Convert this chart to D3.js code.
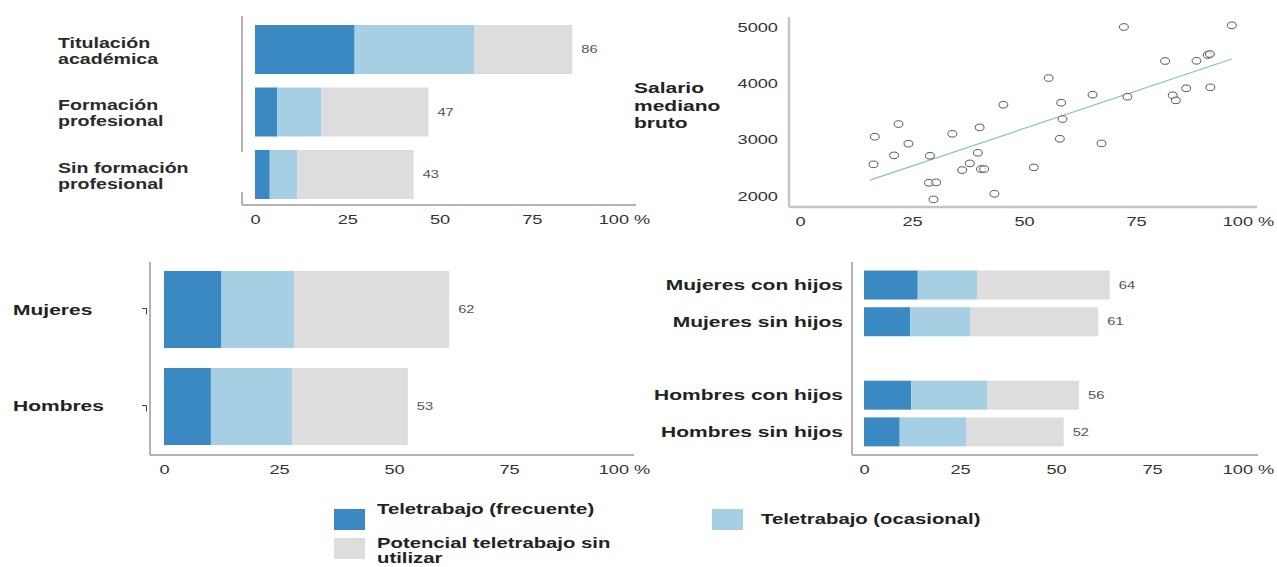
<!DOCTYPE html>
<html>
<head>
<meta charset="utf-8">
<script src="https://cdn.jsdelivr.net/npm/d3@7"></script>
<style>
  html, body { margin: 0; padding: 0; background: #fff; }
  svg { display: block; font-family: "Liberation Sans", Arial, sans-serif; }
</style>
</head>
<body>
<svg id="chart" width="1277" height="567"></svg>
<script>
// ---------- DATA ----------
const seriesNames = ["Teletrabajo (frecuente)", "Teletrabajo (ocasional)", "Potencial teletrabajo sin\nutilizar"];

const educCats = ["Titulación\nacadémica", "Formación\nprofesional", "Sin formación\nprofesional"];
const educFreq = [27, 6, 4];
const educOcas = [32.5, 12, 7.5];
const educPot  = [26.5, 29, 31.5];

const sexCats = ["Mujeres", "Hombres"];
const sexFreq = [12.5, 10.2];
const sexOcas = [15.8, 17.7];
const sexPot  = [33.7, 25.1];

const famCats = ["Mujeres con hijos", "Mujeres sin hijos", "Hombres con hijos", "Hombres sin hijos"];
const famFreq = [14, 12, 12.3, 9.3];
const famOcas = [15.5, 15.6, 19.9, 17.4];
const famPot  = [34.5, 33.4, 23.8, 25.3];

const pctTicks = [0, 25, 50, 75, 100];
const pctTickLabels = ["0", "25", "50", "75", "100 %"];

const scatterX = [72.3, 96.4, 81.5, 88.5, 91.0, 91.5, 55.5, 86.2, 91.6, 65.3, 73.1, 83.2, 83.9, 58.3, 45.4, 58.6,
                  22.0, 40.1, 34.0, 16.7, 24.2, 58.0, 67.3, 21.0, 29.0, 39.7, 37.9, 36.2, 40.4, 41.1, 16.4, 52.2,
                  28.8, 30.4, 43.4, 29.8];
const scatterY = [5000, 5030, 4396, 4400, 4503, 4520, 4094, 3911, 3929, 3798, 3762, 3787, 3698, 3656, 3620, 3366,
                  3277, 3218, 3105, 3052, 2928, 3016, 2934, 2721, 2714, 2767, 2579, 2460, 2478, 2478, 2562, 2508,
                  2235, 2242, 2040, 1940];
const trendX = [15.6, 96.4];
const trendY = [2282, 4432];
const salaryTicks = [2000, 3000, 4000, 5000];
const salaryLabel = "Salario\nmediano\nbruto";

// ---------- STYLE ----------
const colors = ["#3a89c3", "#a6cfe4", "#dddddd"];
const SX = 1.4;           // horizontal text stretch of the reference
const axisColor = "#9a9a9a";
const svg = d3.select("#chart");
const pctFormat = d => pctTickLabels[pctTicks.indexOf(d)];

function stretchText(sel, x, y) {
  sel.attr("x", 0).attr("y", 0).attr("transform", `translate(${x},${y}) scale(${SX},1)`);
}

function multiLine(g, str, x, y, lineH, opts) {
  const lines = str.split("\n");
  lines.forEach((ln, i) => {
    const t = g.append("text").text(ln)
      .attr("font-size", opts.size).attr("font-weight", opts.weight || "bold")
      .attr("fill", opts.fill || "#222").attr("text-anchor", opts.anchor || "start");
    stretchText(t, x, y + i * lineH);
  });
}

function styleBottomTicks(g) {
  g.select(".domain").remove();
  g.selectAll("text").attr("font-size", 13).attr("fill", "#333")
    .attr("font-family", "Liberation Sans, Arial, sans-serif")
    .attr("transform", `scale(${SX},1)`);
}

function bottomAxis(xScale, yAxis, xStart, xEnd) {
  const g = svg.append("g").attr("transform", `translate(0,${yAxis})`);
  g.call(d3.axisBottom(xScale).tickValues(pctTicks).tickSize(0).tickPadding(10).tickFormat(pctFormat));
  styleBottomTicks(g);
  svg.append("line").attr("x1", xStart).attr("x2", xEnd).attr("y1", yAxis).attr("y2", yAxis)
    .attr("stroke", axisColor).attr("stroke-width", 1.5);
}

function stackedBars(cats, freq, ocas, pot, xScale, yScale) {
  const rows = cats.map((c, i) => ({ cat: c, vals: [freq[i], ocas[i], pot[i]] }));
  const g = svg.append("g");
  rows.forEach(r => {
    let acc = 0;
    r.vals.forEach((v, k) => {
      g.append("rect")
        .attr("x", xScale(acc)).attr("width", xScale(acc + v) - xScale(acc))
        .attr("y", yScale(r.cat)).attr("height", yScale.bandwidth())
        .attr("fill", colors[k]);
      acc += v;
    });
    const lbl = g.append("text").text(d3.format(".0f")(acc))
      .attr("font-size", 10.5).attr("fill", "#555");
    stretchText(lbl, xScale(acc) + 9, yScale(r.cat) + yScale.bandwidth() / 2);
    lbl.attr("dy", "0.35em");
  });
  return g;
}

// ---------- PANEL 1: education ----------
{
  const x = d3.scaleLinear().domain([0, 100]).range([255, 624]);
  const y = d3.scaleBand().domain(educCats).range([18.75, 205.25]).paddingInner(0.216).paddingOuter(0.1);
  svg.append("line").attr("x1", 242).attr("x2", 242).attr("y1", 16).attr("y2", 152).attr("stroke", axisColor).attr("stroke-width", 1.5);
  svg.append("line").attr("x1", 242).attr("x2", 242).attr("y1", 192).attr("y2", 205).attr("stroke", axisColor).attr("stroke-width", 1.5);
  stackedBars(educCats, educFreq, educOcas, educPot, x, y);
  bottomAxis(x, 205, 242, 636);
  educCats.forEach(c => {
    const cy = y(c) + y.bandwidth() / 2;
    multiLine(svg, c, 58, cy - 2, 16, { size: 14, fill: "#2a2a2a" });
  });
}

// ---------- PANEL 2: scatter ----------
{
  const x = d3.scaleLinear().domain([0, 100]).range([800, 1248]);
  const y = d3.scaleLinear().domain([2000, 5000]).range([196, 27]);
  svg.append("line").attr("x1", 789).attr("x2", 789).attr("y1", 17).attr("y2", 207).attr("stroke", "#c4c4c4").attr("stroke-width", 2.5);
  svg.append("line").attr("x1", 789).attr("x2", 1257).attr("y1", 207).attr("y2", 207).attr("stroke", "#c4c4c4").attr("stroke-width", 2.5);

  const ya = svg.append("g").attr("transform", "translate(790,0)");
  ya.call(d3.axisLeft(y).tickValues(salaryTicks).tickSize(0).tickPadding(12).tickFormat(d3.format("d")));
  ya.select(".domain").remove();
  ya.selectAll("text").each(function () {
    const t = d3.select(this);
    const xx = +t.attr("x");
    t.attr("x", 0).attr("transform", `translate(${xx},0) scale(${SX},1)`)
      .attr("font-size", 13).attr("fill", "#333").attr("font-family", "Liberation Sans, Arial, sans-serif");
  });

  const xa = svg.append("g").attr("transform", "translate(0,207)");
  xa.call(d3.axisBottom(x).tickValues(pctTicks).tickSize(0).tickPadding(10).tickFormat(pctFormat));
  styleBottomTicks(xa);

  svg.append("path")
    .datum(trendX.map((d, i) => [d, trendY[i]]))
    .attr("d", d3.line().x(d => x(d[0])).y(d => y(d[1])))
    .attr("fill", "none").attr("stroke", "#8bbccd").attr("stroke-width", 1.2);

  svg.append("g").selectAll("ellipse")
    .data(scatterX.map((d, i) => [d, scatterY[i]]))
    .join("ellipse")
    .attr("cx", d => x(d[0])).attr("cy", d => y(d[1]))
    .attr("rx", 4.4).attr("ry", 3.3)
    .attr("fill", "#fff").attr("fill-opacity", 0.6).attr("stroke", "#555").attr("stroke-width", 1);

  multiLine(svg, salaryLabel, 634, 93, 17.5, { size: 15, fill: "#222" });
}

// ---------- PANEL 3: sex ----------
{
  const x = d3.scaleLinear().domain([0, 100]).range([164, 624]);
  const y = d3.scaleBand().domain(sexCats).range([261.3, 454.7]).paddingInner(0.206).paddingOuter(0.1);
  svg.append("line").attr("x1", 150).attr("x2", 150).attr("y1", 262).attr("y2", 455).attr("stroke", axisColor).attr("stroke-width", 1.5);
  stackedBars(sexCats, sexFreq, sexOcas, sexPot, x, y);
  bottomAxis(x, 455, 150, 634);
  sexCats.forEach(c => {
    const cy = y(c) + y.bandwidth() / 2;
    multiLine(svg, c, 13, cy + 5, 16, { size: 15, fill: "#222" });
    svg.append("path")
      .attr("d", `M${142},${cy - 1}H${146.5}V${cy + 5}`)
      .attr("fill", "none").attr("stroke", "#444").attr("stroke-width", 1);
  });
}

// ---------- PANEL 4: family ----------
{
  const x = d3.scaleLinear().domain([0, 100]).range([864, 1248]);
  const yDomain = [famCats[0], famCats[1], "", famCats[2], famCats[3]];
  const y = d3.scaleBand().domain(yDomain).range([263.2, 453.7]).paddingInner(0.21).paddingOuter(0.2);
  svg.append("line").attr("x1", 852).attr("x2", 852).attr("y1", 262).attr("y2", 455).attr("stroke", axisColor).attr("stroke-width", 1.5);
  stackedBars(famCats, famFreq, famOcas, famPot, x, y);
  bottomAxis(x, 455, 852, 1258);
  famCats.forEach(c => {
    const cy = y(c) + y.bandwidth() / 2;
    multiLine(svg, c, 843, cy + 5, 16, { size: 15, fill: "#222", anchor: "end" });
  });
}

// ---------- LEGEND ----------
{
  const items = [
    { name: seriesNames[0], color: colors[0], x: 334, y: 509, tx: 377, ty: 514 },
    { name: seriesNames[1], color: colors[1], x: 712, y: 509, tx: 761, ty: 524 },
    { name: seriesNames[2], color: colors[2], x: 334, y: 538, tx: 377, ty: 548 }
  ];
  items.forEach(it => {
    svg.append("rect").attr("x", it.x).attr("y", it.y).attr("width", 31).attr("height", 21).attr("fill", it.color);
    multiLine(svg, it.name, it.tx, it.ty, 15, { size: 14.5, fill: "#222" });
  });
}
</script>
</body>
</html>
